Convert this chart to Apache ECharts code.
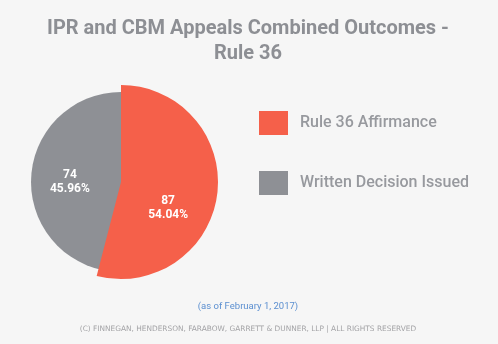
<!DOCTYPE html>
<html><head><meta charset="utf-8">
<script src="https://cdn.jsdelivr.net/npm/echarts@6/dist/echarts.min.js"></script>
<style>html,body{margin:0;padding:0;background:#f6f6f6}#c{width:498px;height:344px}</style>
</head><body><div id="c"></div>
<script>
const titleLines = ['IPR and CBM Appeals Combined Outcomes -', 'Rule 36'];
const subtitle = '(as of February 1, 2017)';
const footer = '(C) FINNEGAN, HENDERSON, FARABOW, GARRETT & DUNNER, LLP | ALL RIGHTS RESERVED';
const categories = ['Rule 36 Affirmance', 'Written Decision Issued'];
const values = [87, 74];
const colors = ['#f5604a', '#8e9095'];

const chart = echarts.init(document.getElementById('c'));
const total = values.reduce((a, b) => a + b, 0);
const font = 'Roboto, "Open Sans", sans-serif';

chart.setOption({
  backgroundColor: '#f6f6f6',
  title: [
    { text: titleLines.join('\n'), left: 243, top: 11, textAlign: 'center',
      textStyle: { fontFamily: font, fontSize: 20, fontWeight: 'bold', color: '#8d8f94', lineHeight: 25 } },
    { text: subtitle, left: 243, top: 297, textAlign: 'center',
      textStyle: { fontFamily: font, fontSize: 9.5, fontWeight: 'normal', color: '#5b8fd0' } },
    { text: footer, left: 243, top: 321, textAlign: 'center',
      textStyle: { fontFamily: 'DejaVu Sans', fontSize: 7.4, fontWeight: 'normal', color: '#a3a3a6' } }
  ],
  legend: {
    orient: 'vertical', left: 259, top: 111, padding: 0, itemWidth: 29, itemHeight: 24, itemGap: 36,
    icon: 'rect',
    data: categories.map((n, i) => ({ name: n, itemStyle: { color: colors[i], borderWidth: 0 } })),
    textStyle: { fontFamily: font, fontSize: 16, fontWeight: 500, color: '#97999e', padding: [0, 0, 0, 7] }
  },
  series: [
    {
      type: 'pie', silent: true, center: [121, 182], radius: [0, 90],
      label: { show: false }, labelLine: { show: false },
      itemStyle: { borderWidth: 0 },
      data: [{ name: categories[1], value: values[1], itemStyle: { color: colors[1] } }]
    },
    {
      type: 'pie', silent: true, center: [121, 182], radius: [0, 97], startAngle: 90, clockwise: true,
      itemStyle: { borderWidth: 0 },
      label: {
        show: true, position: 'inside', color: '#ffffff', fontFamily: font, fontSize: 12, fontWeight: 'bold', lineHeight: 14,
        formatter: p => p.value + '\n' + (p.value / total * 100).toFixed(2) + '%'
      },
      labelLayout: p => (p.dataIndex === 0 ? { dx: -4, dy: 19 } : { dx: 0, dy: 7 }),
      labelLine: { show: false },
      data: categories.map((n, i) => ({
        name: n, value: values[i],
        itemStyle: { color: i === 0 ? colors[0] : 'rgba(0,0,0,0)' }
      }))
    }
  ]
});
</script></body></html>
